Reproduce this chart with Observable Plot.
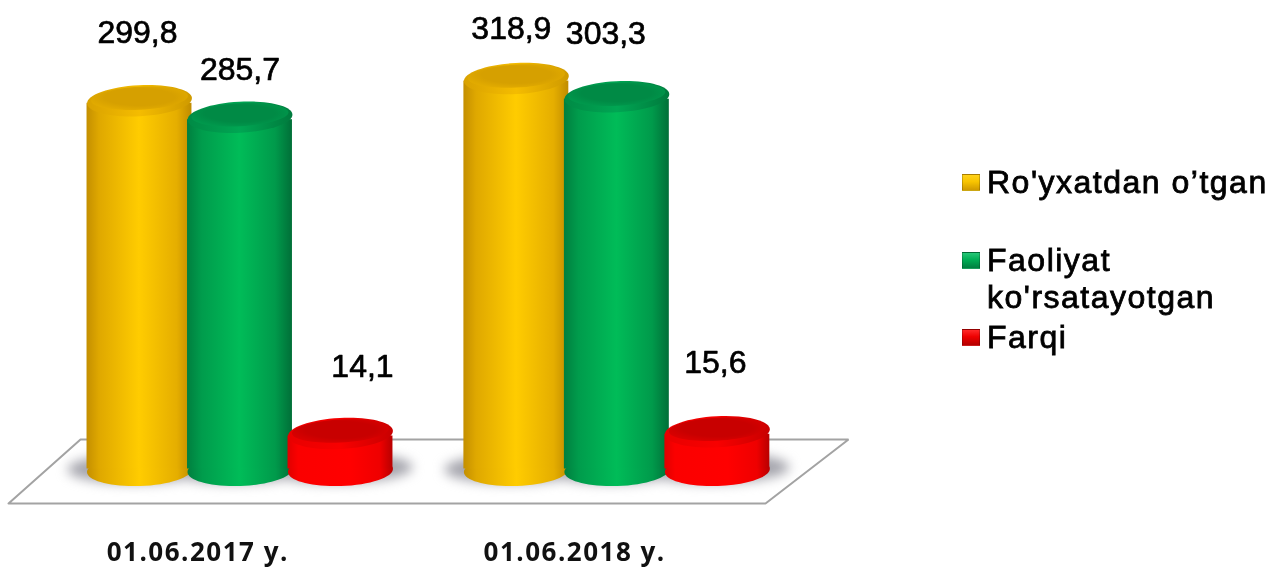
<!DOCTYPE html>
<html>
<head>
<meta charset="utf-8">
<script src="https://cdn.jsdelivr.net/npm/d3@7"></script>
<script src="https://cdn.jsdelivr.net/npm/@observablehq/plot@0.6"></script>
<style>
html,body{margin:0;padding:0;background:#fff}
#chart{position:relative;width:1269px;height:569px;overflow:hidden}
#chart svg{display:block;filter:blur(.45px)}
.legend{position:absolute;left:961px;top:0;font:32px/37px "Liberation Sans",Arial,sans-serif;color:#000;-webkit-text-stroke:.8px #000;letter-spacing:1.5px;filter:blur(.45px)}
.item{position:absolute;left:26px;white-space:nowrap}
.sw{position:absolute;left:-25px;width:18px;height:17px;top:10px;box-sizing:border-box;border:1px solid rgba(0,0,0,.2)}
</style>
</head>
<body>
<div id="chart"></div>
<script>
// ----- data -----
const dates = ["01.06.2017 y.", "01.06.2018 y."];
const seriesNames = ["Ro'yxatdan o’tgan", "Faoliyat ko'rsatayotgan", "Farqi"];
const registered = [299.8, 318.9];
const active = [285.7, 303.3];
const difference = [14.1, 15.6];
const labelTexts = [["299,8", "318,9"], ["285,7", "303,3"], ["14,1", "15,6"]];

// ----- layout of the value axes -----
const base = -17.7;                 // level of the cylinders' foot
const groupStep = 3.75;             // slot distance between the two dates
const floorSlots = [-1.303, -0.587, 7.055, 6.229, -1.303];
const floorLevels = [-46, 8.9, 8.9, -46, -46];
const labelDx = [[-2, -5], [0, -11], [22, -2]];
const labelDy = [[-68, -50], [-47, -63], [-67, -69]];

const rows = [];
[registered, active, difference].forEach((vals, s) =>
  vals.forEach((v, g) => rows.push({
    date: dates[g], group: g, series: s, value: v,
    slot: g * groupStep + s, text: labelTexts[s][g],
    dx: labelDx[s][g], dy: labelDy[s][g]
  })));

// tilted ellipse as a custom Plot symbol
function ellipse(rx, ry, deg, oy = 0) {
  const t = deg * Math.PI / 180, c = Math.cos(t), s = Math.sin(t), k = 0.5523;
  const P = (x, y) => [x * c - y * s, x * s + y * c + oy];
  return {
    draw(ctx) {
      ctx.moveTo(...P(rx, 0));
      ctx.bezierCurveTo(...P(rx, k * ry), ...P(k * rx, ry), ...P(0, ry));
      ctx.bezierCurveTo(...P(-k * rx, ry), ...P(-rx, k * ry), ...P(-rx, 0));
      ctx.bezierCurveTo(...P(-rx, -k * ry), ...P(-k * rx, -ry), ...P(0, -ry));
      ctx.bezierCurveTo(...P(k * rx, -ry), ...P(rx, -k * ry), ...P(rx, 0));
      ctx.closePath();
    }
  };
}
const rimShape = ellipse(52.5, 15.5, -3);
const capShape = ellipse(48.5, 11.5, -3, -2.5);
const footShape = ellipse(52.5, 15.5, -2);
const shadowShape = ellipse(72, 15, -1);

const blur = r => (i, s, v, d, c, next) => {
  const g = next(i, s, v, d, c);
  g.style.filter = `blur(${r}px)`;
  return g;
};
const spaced = ls => (i, s, v, d, c, next) => {
  const g = next(i, s, v, d, c);
  g.style.letterSpacing = ls + "px";
  return g;
};

const defs = () => {
  const svg = d3.create("svg:g");
  const d = svg.append("defs");
  const grad = (id, stops) => {
    const g = d.append("linearGradient").attr("id", id);
    stops.forEach(([o, col]) => g.append("stop").attr("offset", o).attr("stop-color", col));
  };
  grad("body0", [[0, "#c48f00"], [.12, "#dfa800"], [.5, "#ffcc00"], [.86, "#e5ae00"], [1, "#c08c00"]]);
  grad("body1", [[0, "#007f3f"], [.14, "#009c4c"], [.5, "#00bc58"], [.84, "#009a4b"], [1, "#006f38"]]);
  grad("body2", [[0, "#e00000"], [.1, "#fb0000"], [.6, "#ff0000"], [.88, "#ef0000"], [1, "#b80000"]]);
  grad("rim0", [[0, "#d9a200"], [.5, "#f4bc00"], [1, "#cf9a00"]]);
  grad("rim1", [[0, "#008a45"], [.5, "#00a653"], [1, "#007a3d"]]);
  grad("rim2", [[0, "#e80000"], [.5, "#f80000"], [1, "#c80000"]]);
  const rad = (id, inner, outer) => {
    const g = d.append("radialGradient").attr("id", id).attr("cx", .5).attr("cy", .45).attr("r", .6);
    g.append("stop").attr("offset", .6).attr("stop-color", inner);
    g.append("stop").attr("offset", 1).attr("stop-color", outer);
  };
  rad("cap0", "#d6a000", "#e4ad00");
  rad("cap1", "#008a45", "#009a4d");
  rad("cap2", "#c80000", "#dc0000");
  return svg.node();
};

const cylinders = [0, 1, 2].flatMap(s => {
  const r = rows.filter(d => d.series === s);
  return [
    Plot.dot(r, {x: "slot", y: () => base, symbol: footShape, fill: `url(#body${s})`}),
    Plot.rectY(r, {
      x1: d => d.slot - 0.522, x2: d => d.slot + 0.522, y1: () => base, y2: "value",
      insetTop: 2.5, insetBottom: 1.5, fill: `url(#body${s})`
    }),
    Plot.dot(r, {x: "slot", y: "value", symbol: rimShape, fill: `url(#rim${s})`}),
    Plot.dot(r, {x: "slot", y: "value", symbol: capShape, fill: `url(#cap${s})`})
  ];
});

const chart = Plot.plot({
  width: 1269, height: 569,
  marginTop: 0, marginRight: 0, marginBottom: 0, marginLeft: 0,
  x: {domain: [-1.383, 11.244], range: [0, 1269], axis: null},
  y: {domain: [-102.7, 385.9], range: [569, 0], axis: null},
  style: {background: "#fff"},
  marks: [
    defs,
    Plot.line(floorSlots.map((x, i) => ({x, y: floorLevels[i]})), {
      x: "x", y: "y", stroke: "#a3a3a3", strokeWidth: 2, fill: "#fff", strokeLinejoin: "miter"
    }),
    Plot.dot(rows, {
      x: "slot", y: () => base + 2, symbol: shadowShape,
      fill: "#a4a4ac", render: blur(6)
    }),
    ...cylinders,
    ...rows.map(d => Plot.text([d], {
      x: "slot", y: "value", text: "text", dx: d.dx, dy: d.dy,
      fontSize: 32, fontFamily: "Liberation Sans, Arial, sans-serif",
      fill: "#000", stroke: "#000", strokeWidth: 0.7
    })),
    Plot.text(dates, {
      x: (d, i) => i * groupStep + 0.58, frameAnchor: "bottom", lineAnchor: "middle", dy: -17,
      text: d => d, fontSize: 26, fontWeight: 700, fontFamily: "Open Sans, sans-serif",
      fill: "#111", render: spaced(1.5)
    })
  ]
});
document.getElementById("chart").appendChild(chart);

// legend, built from the series names
const legend = d3.select("#chart").append("div").attr("class", "legend");
const swatches = [
  "linear-gradient(180deg,#ffd21a 0%,#f8c400 45%,#d09a00 100%)",
  "linear-gradient(180deg,#25c777 0%,#00ad55 45%,#007f40 100%)",
  "linear-gradient(180deg,#ff2a2a 0%,#ee0000 45%,#b40000 100%)"
];
const rowTop = [164, 242, 319];
seriesNames.forEach((name, i) => {
  const item = legend.append("div").attr("class", "item").style("top", rowTop[i] + "px");
  item.append("span").attr("class", "sw").style("background", swatches[i]);
  if (i === 1) {
    const [a, b] = [name.slice(0, 8), name.slice(9)];
    item.append("span").text(a);
    item.append("br");
    item.append("span").text(b);
  } else item.append("span").text(name);
});
</script>
</body>
</html>
